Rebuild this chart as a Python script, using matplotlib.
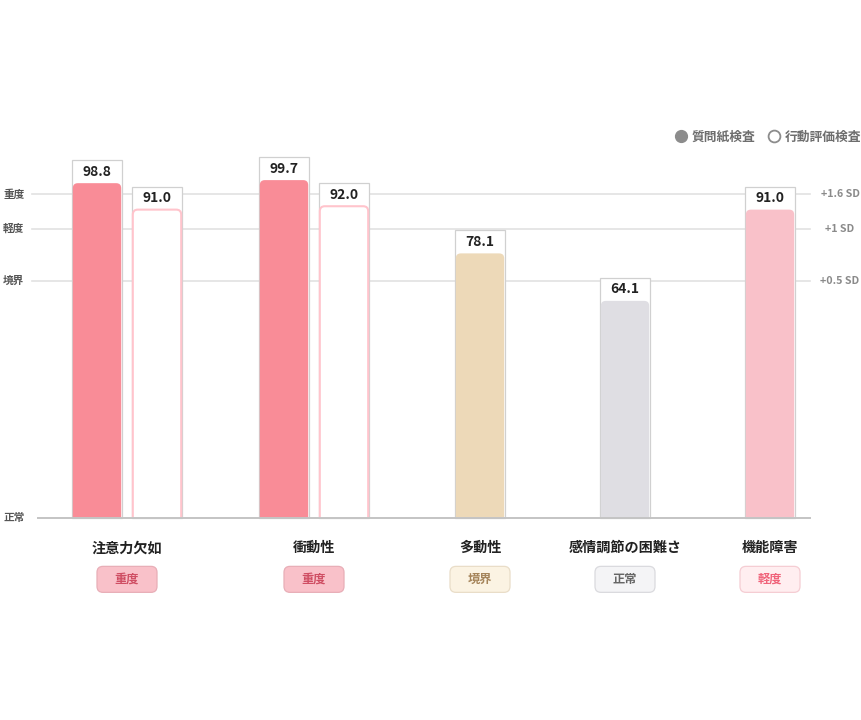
import matplotlib
matplotlib.use('Agg')
import matplotlib.pyplot as plt
from matplotlib.patches import FancyBboxPatch, Rectangle
from matplotlib.lines import Line2D
import numpy as np

plt.rcParams['font.family'] = ['Noto Sans CJK JP', 'DejaVu Sans']

# -------------------------------
# data
# -------------------------------
categories = ['注意力欠如', '衝動性', '多動性', '感情調節の困難さ', '機能障害']
questionnaire = [98.8, 99.7, 78.1, 64.1, 91.0]     # 質問紙検査
behavior = [91.0, 92.0, None, None, None]           # 行動評価検査
levels = ['重度', '重度', '境界', '正常', '軽度']

level_names = ['重度', '軽度', '境界', '正常']
level_values = [95.5, 85.3, 70.1, 0]
sd_labels = ['+1.6 SD', '+1 SD', '+0.5 SD']

legend_labels = ['質問紙検査', '行動評価検査']

# level -> (bar color, badge fill, badge edge, badge text)
level_style = {
    '重度': ('#F98C97', '#F9C1C9', '#E8AEB7', '#CF4E63'),
    '軽度': ('#F9C1C9', '#FFEEF0', '#F5CDD3', '#F0637A'),
    '境界': ('#EDD9B8', '#FBF3E3', '#E9DDC8', '#A5845A'),
    '正常': ('#DFDEE3', '#F4F4F6', '#DADADE', '#666666'),
}

# -------------------------------
# layout (1 x unit = 1 px, y: 0..100)
# -------------------------------
W, H = 861, 720
px_per_unit = 3.392
base_px = 518.3
bar_w = 50
label_h = 23 / px_per_unit

fig = plt.figure(figsize=(W / 100, H / 100), dpi=100)
ax = fig.add_axes([38 / W, (H - base_px) / H, 772 / W, 100 * px_per_unit / H])
ax.set_xlim(38, 810)
ax.set_ylim(0, 100)
ax.axis('off')

n_bars = [1 + (b is not None) for b in behavior]
slot = np.array([187 if n == 2 else 145 for n in n_bars])
centers = 33.5 + np.cumsum(slot) - slot / 2

# grid lines + level labels
for name, v in zip(level_names, level_values):
    if v > 0:
        ax.plot([32, 810], [v, v], color='#E2E2E2', lw=1.2, zorder=1, clip_on=False)
    ax.text(3, v, name, ha='left', va='center', fontsize=7.7, fontweight='bold',
            color='#555555', clip_on=False)
ax.plot([38, 810], [0, 0], color='#C4C4C4', lw=1.4, zorder=6, clip_on=False)

for sd, v in zip(sd_labels, level_values):
    ax.text(840, v, sd, ha='center', va='center', fontsize=7.7, fontweight='bold',
            color='#8A8A8A', clip_on=False)


def draw_bar(x, val, face, edge, lw):
    # outline box holding the value label
    ax.add_patch(Rectangle((x - bar_w / 2, 0), bar_w, val + label_h, facecolor='white',
                           edgecolor='#D0D0D0', lw=0.9, zorder=3, clip_on=False))
    bar = FancyBboxPatch((x - bar_w / 2 + 0.8, -4), bar_w - 1.6, val + 4,
                         boxstyle='round,pad=0,rounding_size=5',
                         mutation_aspect=1 / px_per_unit,
                         facecolor=face, edgecolor=edge, lw=lw, zorder=4)
    ax.add_patch(bar)
    ax.text(x, val + label_h / 2, f'{val:.1f}', ha='center', va='center', fontsize=10,
            fontweight='bold', color='#222222', zorder=5, clip_on=False)


for c, q, b, lv, cat in zip(centers, questionnaire, behavior, levels, categories):
    color, bfill, bedge, btext = level_style[lv]
    if b is not None:
        draw_bar(c - 30, q, color, color, 0)
        draw_bar(c + 30, b, 'white', '#FFC4CC', 1.5)
    else:
        draw_bar(c, q, color, color, 0)

    ax.text(c, -8.8, cat, ha='center', va='center', fontsize=10.2, fontweight='bold',
            color='#222222', clip_on=False)
    badge_h = 26 / px_per_unit
    ax.add_patch(FancyBboxPatch((c - 30, -18.0 - badge_h / 2), 60, badge_h,
                                boxstyle='round,pad=0,rounding_size=6',
                                mutation_aspect=1 / px_per_unit,
                                facecolor=bfill, edgecolor=bedge, lw=0.9, clip_on=False))
    ax.text(c, -18.0, lv, ha='center', va='center', fontsize=8.8, fontweight='bold',
            color=btext, clip_on=False)

# legend
handles = [
    Line2D([], [], ls='none', marker='o', ms=8.5, mfc='#8C8C8C', mec='#8C8C8C'),
    Line2D([], [], ls='none', marker='o', ms=8.5, mfc='white', mec='#8C8C8C', mew=1.3),
]
leg = fig.legend(handles, legend_labels, loc='center right', bbox_to_anchor=(861 / W, 1 - 137 / H),
                 ncol=2, frameon=False, fontsize=9.2, handletextpad=0.3, columnspacing=1.0,
                 handlelength=1.0, borderpad=0, borderaxespad=0)
for t in leg.get_texts():
    t.set_color('#6E6E6E')
    t.set_fontweight('bold')

fig.savefig('out.png', dpi=100)
